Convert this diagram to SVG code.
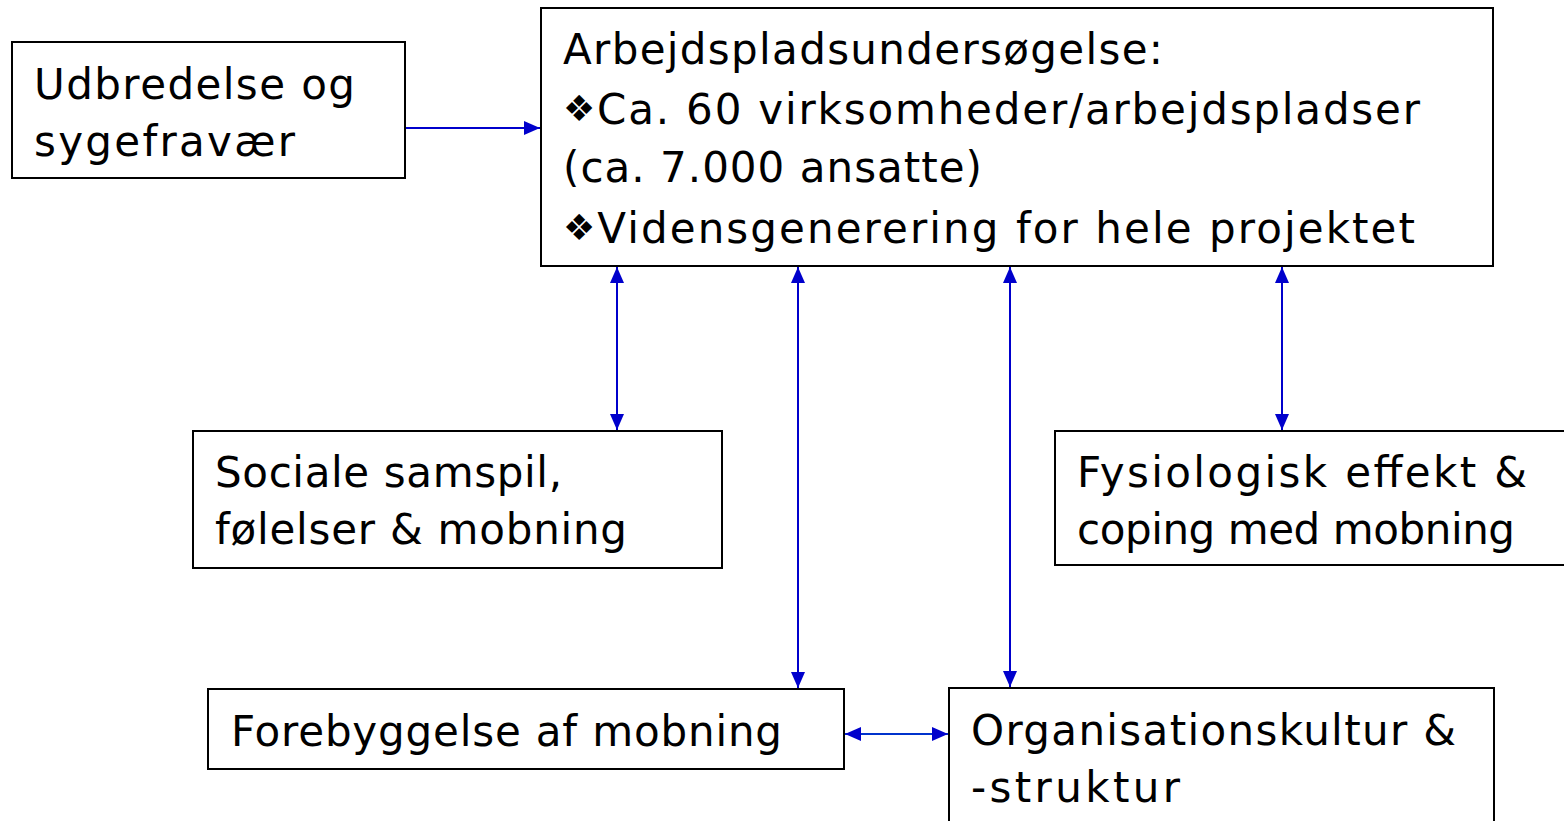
<svg xmlns="http://www.w3.org/2000/svg" width="1564" height="821" viewBox="0 0 1564 821">
<style>
.box{fill:#fff;stroke:#000;stroke-width:2}
.t{font-family:"DejaVu Sans","Liberation Sans",sans-serif;font-size:42px;fill:#000}
.b{font-size:36px}
.c{stroke:#0000cc;stroke-width:2;fill:none}
</style>
<defs>
<marker id="ah" viewBox="0 0 16 14" refX="16" refY="7" markerWidth="16" markerHeight="14" markerUnits="userSpaceOnUse" orient="auto-start-reverse">
<path d="M0,0 L16,7 L0,14 Z" fill="#0000cc"/>
</marker>
</defs>
<rect width="1564" height="821" fill="#fff"/>
<g id="n-udbredelse">
<rect class="box" x="12" y="42" width="393" height="136"/>
<text class="t" x="34" y="99" textLength="321">Udbredelse og</text>
<text class="t" x="34" y="156" textLength="261">sygefravær</text>
</g>
<g id="n-arbejdsplads">
<rect class="box" x="541" y="8" width="952" height="258"/>
<text class="t" x="563" y="64" textLength="600">Arbejdspladsundersøgelse:</text>
<text class="t" x="563" y="124" textLength="857"><tspan class="b" dy="-3">❖</tspan><tspan dy="3">Ca. 60 virksomheder/arbejdspladser</tspan></text>
<text class="t" x="563" y="182" textLength="419">(ca. 7.000 ansatte)</text>
<text class="t" x="563" y="243" textLength="852"><tspan class="b" dy="-3">❖</tspan><tspan dy="3">Vidensgenerering for hele projektet</tspan></text>
</g>
<g id="n-sociale">
<rect class="box" x="193" y="431" width="529" height="137"/>
<text class="t" x="215" y="487" textLength="347">Sociale samspil,</text>
<text class="t" x="215" y="544" textLength="412">følelser &amp; mobning</text>
</g>
<g id="n-fysiologisk">
<rect class="box" x="1055" y="431" width="520" height="134"/>
<text class="t" x="1077" y="487" textLength="450">Fysiologisk effekt &amp;</text>
<text class="t" x="1077" y="544" textLength="438">coping med mobning</text>
</g>
<g id="n-forebyggelse">
<rect class="box" x="208" y="689" width="636" height="80"/>
<text class="t" x="231" y="746" textLength="551">Forebyggelse af mobning</text>
</g>
<g id="n-organisation">
<rect class="box" x="949" y="688" width="545" height="150"/>
<text class="t" x="971" y="745" textLength="485">Organisationskultur &amp;</text>
<text class="t" x="971" y="802" textLength="209">-struktur</text>
</g>
<g id="connectors">
<line class="c" x1="406" y1="128" x2="540" y2="128" marker-end="url(#ah)"/>
<line class="c" x1="617" y1="267" x2="617" y2="430" marker-start="url(#ah)" marker-end="url(#ah)"/>
<line class="c" x1="798" y1="267" x2="798" y2="688" marker-start="url(#ah)" marker-end="url(#ah)"/>
<line class="c" x1="1010" y1="267" x2="1010" y2="687" marker-start="url(#ah)" marker-end="url(#ah)"/>
<line class="c" x1="1282" y1="267" x2="1282" y2="430" marker-start="url(#ah)" marker-end="url(#ah)"/>
<line class="c" x1="845" y1="734" x2="948" y2="734" style="stroke:#0033cc" marker-start="url(#ah)" marker-end="url(#ah)"/>
</g>
</svg>
